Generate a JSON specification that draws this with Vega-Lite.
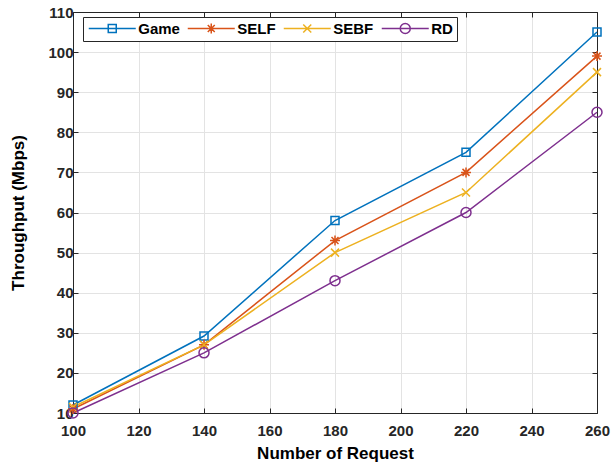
{
  "$schema": "https://vega.github.io/schema/vega-lite/v6.json",
  "width": 524,
  "height": 401,
  "autosize": "none",
  "padding": {"left": 73, "top": 12, "right": 16, "bottom": 49},
  "background": "white",
  "config": {
    "view": {"stroke": null},
    "axis": {
      "domainColor": "#262626",
      "domainWidth": 1,
      "tickColor": "#262626",
      "tickWidth": 1,
      "tickSize": -5,
      "labelFlush": false,
      "labelOverlap": false,
      "labelColor": "#262626",
      "labelFont": "Liberation Sans",
      "labelFontSize": 15,
      "labelFontWeight": "bold",
      "titleColor": "#000000",
      "titleFont": "Liberation Sans",
      "titleFontSize": 17,
      "titleFontWeight": "bold",
      "gridColor": "#e3e3e3",
      "gridWidth": 1
    },
    "legend": {
      "labelFont": "Liberation Sans",
      "labelFontSize": 15,
      "labelFontWeight": "bold",
      "labelColor": "#000000"
    }
  },
  "data": {
    "values": [
      {"x": 100, "y": 12, "s": "Game"},
      {"x": 140, "y": 29.2, "s": "Game"},
      {"x": 180, "y": 58, "s": "Game"},
      {"x": 220, "y": 75, "s": "Game"},
      {"x": 260, "y": 105, "s": "Game"},
      {"x": 100, "y": 11, "s": "SELF"},
      {"x": 140, "y": 27, "s": "SELF"},
      {"x": 180, "y": 53, "s": "SELF"},
      {"x": 220, "y": 70, "s": "SELF"},
      {"x": 260, "y": 99, "s": "SELF"},
      {"x": 100, "y": 11.5, "s": "SEBF"},
      {"x": 140, "y": 27, "s": "SEBF"},
      {"x": 180, "y": 50, "s": "SEBF"},
      {"x": 220, "y": 65, "s": "SEBF"},
      {"x": 260, "y": 95, "s": "SEBF"},
      {"x": 100, "y": 10, "s": "RD"},
      {"x": 140, "y": 25, "s": "RD"},
      {"x": 180, "y": 43, "s": "RD"},
      {"x": 220, "y": 60, "s": "RD"},
      {"x": 260, "y": 85, "s": "RD"}
    ]
  },
  "resolve": {
    "axis": {"x": "independent", "y": "independent"},
    "scale": {"shape": "independent", "color": "independent"}
  },
  "layer": [
    {
      "mark": {"type": "line", "strokeWidth": 1.5},
      "encoding": {
        "x": {"field": "x", "type": "quantitative",
          "scale": {"domain": [100, 260], "nice": false},
          "axis": {"values": [100, 120, 140, 160, 180, 200, 220, 240, 260], "title": "Number of Request", "labelPadding": 15, "titlePadding": 7, "grid": true}},
        "y": {"field": "y", "type": "quantitative",
          "scale": {"domain": [10, 110], "nice": false},
          "axis": {"values": [10, 20, 30, 40, 50, 60, 70, 80, 90, 100, 110], "title": "Throughput (Mbps)", "labelPadding": 5, "titlePadding": 20, "grid": true}},
        "color": {"field": "s", "type": "nominal", "legend": null,
          "scale": {"domain": ["Game", "SELF", "SEBF", "RD"], "range": ["#0072BD", "#D95319", "#EDB120", "#7E2F8E"]}},
        "detail": {"field": "s"}
      }
    },
    {
      "mark": {"type": "point", "filled": false, "strokeWidth": 1.5, "size": 100, "opacity": 1},
      "encoding": {
        "x": {"field": "x", "type": "quantitative", "axis": null},
        "y": {"field": "y", "type": "quantitative", "axis": null},
        "color": {"field": "s", "type": "nominal", "legend": null,
          "scale": {"domain": ["Game", "SELF", "SEBF", "RD"], "range": ["#0072BD", "#D95319", "#EDB120", "#7E2F8E"]}},
        "shape": {"field": "s", "type": "nominal", "legend": null,
          "scale": {"domain": ["Game", "SELF", "SEBF", "RD"], "range": [
            "M-0.8,-0.8L0.8,-0.8L0.8,0.8L-0.8,0.8Z",
            "M-1,0L1,0M0,-1L0,1M-0.7,-0.7L0.7,0.7M-0.7,0.7L0.7,-0.7",
            "M-0.8,-0.8L0.8,0.8M-0.8,0.8L0.8,-0.8",
            "M1,0A1,1,0,1,1,-1,0A1,1,0,1,1,1,0Z"
          ]}}
      }
    },
    {
      "mark": {"type": "point", "filled": false, "strokeWidth": 1.5, "size": 100, "opacity": 0},
      "encoding": {
        "x": {"field": "x", "type": "quantitative", "axis": {"orient": "top", "values": [100, 120, 140, 160, 180, 200, 220, 240, 260], "labels": false, "title": null, "grid": false}},
        "y": {"field": "y", "type": "quantitative", "axis": {"orient": "right", "values": [10, 20, 30, 40, 50, 60, 70, 80, 90, 100, 110], "labels": false, "title": null, "grid": false}},
        "color": {"field": "s", "type": "nominal",
          "scale": {"domain": ["Game", "SELF", "SEBF", "RD"], "range": ["#0072BD", "#D95319", "#EDB120", "#7E2F8E"]},
          "legend": {"title": null, "orient": "none", "legendX": 10, "legendY": 5, "direction": "horizontal", "padding": 4, "strokeColor": "#262626", "fillColor": "white", "columnPadding": 4, "symbolSize": 100, "symbolOffset": 17.75, "labelOffset": 18.5, "symbolOpacity": 1, "symbolStrokeWidth": 1.5, "gridAlign": "none"}},
        "shape": {"field": "s", "type": "nominal",
          "legend": {"title": null, "orient": "none", "legendX": 10, "legendY": 5, "direction": "horizontal", "padding": 4, "strokeColor": "#262626", "fillColor": "white", "columnPadding": 4, "symbolSize": 100, "symbolOffset": 17.75, "labelOffset": 18.5, "symbolOpacity": 1, "symbolStrokeWidth": 1.5, "gridAlign": "none"},
          "scale": {"domain": ["Game", "SELF", "SEBF", "RD"], "range": [
            "M-4.7,0L4.7,0M-0.8,-0.8L0.8,-0.8L0.8,0.8L-0.8,0.8Z",
            "M-4.7,0L4.7,0M-1,0L1,0M0,-1L0,1M-0.7,-0.7L0.7,0.7M-0.7,0.7L0.7,-0.7",
            "M-4.7,0L4.7,0M-0.8,-0.8L0.8,0.8M-0.8,0.8L0.8,-0.8",
            "M-4.7,0L4.7,0M1,0A1,1,0,1,1,-1,0A1,1,0,1,1,1,0Z"
          ]}}
      }
    }
  ]
}
